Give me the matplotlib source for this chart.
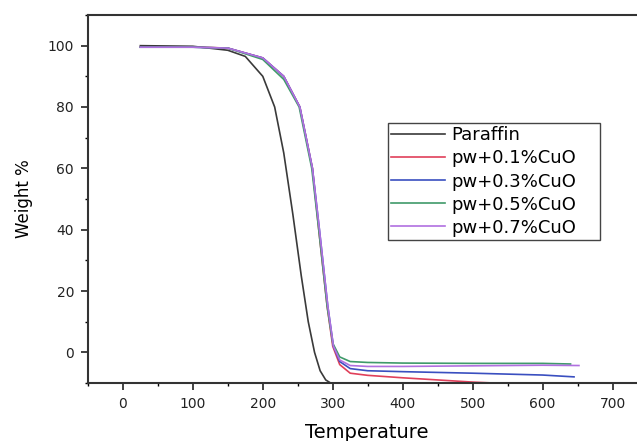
import numpy as np
import matplotlib.pyplot as plt

plt.rcParams["font.family"] = ["DejaVu Sans"]

# TGA curves (temperature, weight %)
t_par = [25, 100, 150, 175, 200, 217, 230, 243, 255, 265, 274, 282, 290, 297]
w_par = [100, 99.8, 98.5, 96.5, 90, 80, 65, 45, 25, 10, 0, -6, -9, -10]

t_01 = [25, 100, 150, 200, 230, 253, 271, 280, 292, 300, 310, 325, 350, 400, 450, 500, 530]
w_01 = [99.6, 99.6, 99.2, 96, 90, 80, 60, 40, 15, 2, -4, -6.8, -7.5, -8.3, -9, -9.7, -10]

t_03 = [25, 100, 150, 200, 230, 253, 271, 281, 293, 301, 310, 325, 350, 400, 500, 600, 645]
w_03 = [99.5, 99.5, 99.2, 96, 90, 80, 60, 40, 15, 2, -3, -5.3, -6, -6.3, -6.8, -7.4, -8]

t_05 = [25, 100, 150, 200, 230, 252, 270, 280, 292, 300, 310, 325, 350, 400, 500, 600, 640]
w_05 = [99.5, 99.5, 99.2, 95.5, 89, 80, 60, 40, 15, 3, -1.5, -3, -3.3, -3.5, -3.6, -3.6, -3.8]

t_07 = [25, 100, 150, 200, 230, 253, 271, 281, 293, 301, 310, 325, 350, 400, 500, 600, 652]
w_07 = [99.5, 99.5, 99.2, 96, 90, 80, 60, 40, 15, 2, -2.5, -4.3, -4.6, -4.6, -4.4, -4.2, -4.3]

labels = ["Paraffin", "pw+0.1%CuO", "pw+0.3%CuO", "pw+0.5%CuO", "pw+0.7%CuO"]
colors = ["#3a3a3a", "#e0405a", "#3a4fc0", "#3f9a6a", "#b070e0"]

fig = plt.figure(figsize=(6.37, 4.41), dpi=100)
ax = fig.add_axes([0.138, 0.1315, 0.862, 0.8345])

series = [(t_par, w_par), (t_01, w_01), (t_03, w_03), (t_05, w_05), (t_07, w_07)]
for (t, w), lab, c in zip(series, labels, colors):
    ax.plot(t, w, color=c, lw=1.2, label=lab)

ax.set_xlim(-50, 735)
ax.set_ylim(-10, 110)
ax.set_xticks(np.arange(0, 701, 100))
ax.set_xticks(np.arange(-50, 701, 50), minor=True)
ax.set_yticks(np.arange(0, 101, 20))
ax.set_yticks(np.arange(-10, 111, 10), minor=True)
ax.tick_params(direction="out", labelsize=10, colors="#222222", width=1.2,
               length=5, pad=5)
ax.tick_params(which="minor", length=2.5, width=1)
ax.spines["right"].set_visible(False)
for s in ["left", "bottom", "top"]:
    ax.spines[s].set_linewidth(1.5)
    ax.spines[s].set_color("#333333")

ax.set_xlabel("Temperature", fontsize=14)
ax.set_ylabel("Weight %", fontsize=12)
ax.xaxis.set_label_coords(0.508, -0.108)
ax.yaxis.set_label_coords(-0.10, 0.5)

leg = ax.legend(loc="upper left", bbox_to_anchor=(0.546, 0.385, 0.386, 0.322),
                mode="expand", fontsize=13, handlelength=3.0, handletextpad=0.3,
                borderpad=0.2, borderaxespad=0, labelspacing=0.28,
                fancybox=False, framealpha=1)
leg.get_frame().set_edgecolor("#444444")
leg.get_frame().set_linewidth(1.0)

fig.savefig("out.png", dpi=100)
